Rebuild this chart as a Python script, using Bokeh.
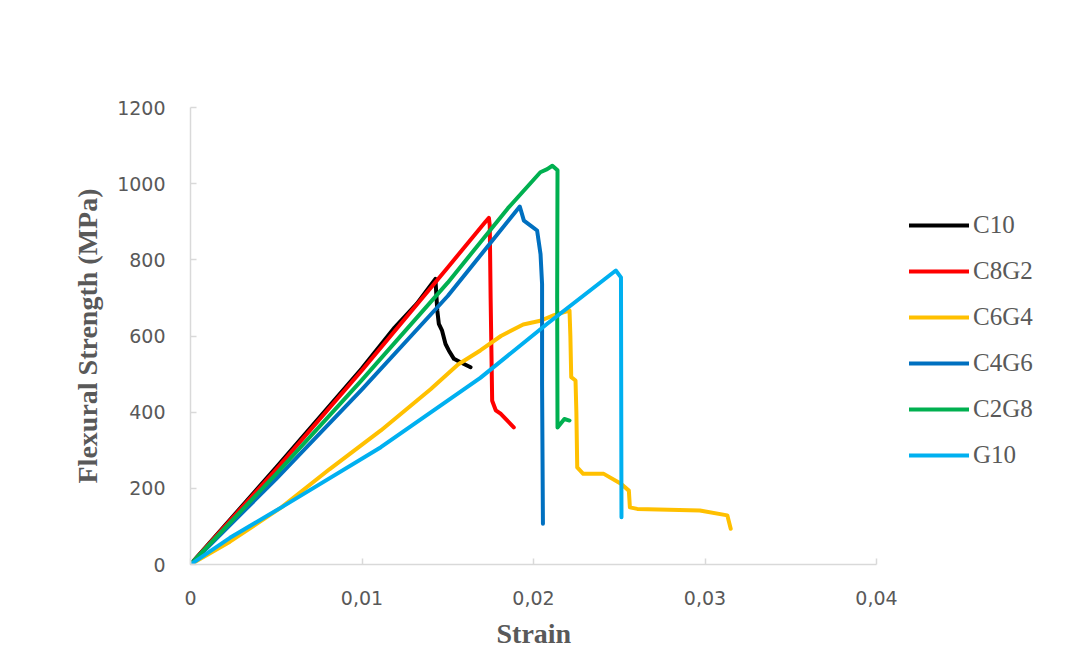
from bokeh.plotting import figure
from bokeh.models import Range1d, FixedTicker, Legend, LegendItem, Title
from bokeh.embed import file_html
from bokeh.resources import INLINE

# ---- data ----
series_names = ["C10", "C8G2", "C6G4", "C4G6", "C2G8", "G10"]
series_colors = ["#000000", "#FF0000", "#FFC000", "#0070C0", "#00B050", "#00B0F0"]

c10_strain = [0, 0.005, 0.010, 0.0119, 0.0132, 0.01428, 0.01439, 0.01448,
              0.01467, 0.01487, 0.01506, 0.01536, 0.01574, 0.01633]
c10_stress = [0, 255, 515, 622, 685, 750, 667, 632, 614, 579, 562, 540, 531, 518]

c8g2_strain = [0, 0.005, 0.010, 0.015, 0.0172, 0.0174, 0.01745, 0.0175, 0.01759, 0.0178, 0.01808, 0.01885]
c8g2_stress = [0, 250, 510, 780, 900, 910, 890, 700, 430, 405, 396, 360]

c6g4_strain = [0, 0.0023, 0.0053, 0.0081, 0.0111, 0.0140, 0.0156, 0.0169, 0.0181, 0.0194,
               0.0204, 0.0212, 0.0221, 0.02215, 0.0222, 0.02245, 0.0225, 0.02255, 0.0229,
               0.0241, 0.0251, 0.02556, 0.02562, 0.02605, 0.0297, 0.0313, 0.0315]
c6g4_stress = [0, 60, 150, 250, 352, 460, 525, 562, 600, 630, 640, 655, 667, 600, 492, 483,
               400, 255, 238, 238, 212, 194, 150, 146, 142, 129, 94]

c4g6_strain = [0, 0.005, 0.010, 0.015, 0.0192, 0.01944, 0.01983, 0.02021, 0.02041, 0.0205, 0.0205, 0.02055]
c4g6_stress = [0, 225, 460, 705, 940, 903, 890, 877, 815, 737, 474, 107]

c2g8_strain = [0, 0.005, 0.010, 0.015, 0.0185, 0.0204, 0.0208, 0.0211, 0.0214, 0.02138, 0.0214, 0.0218, 0.0221]
c2g8_stress = [0, 238, 485, 740, 935, 1030, 1038, 1047, 1035, 700, 360, 382, 378]

g10_strain = [0, 0.0023, 0.0053, 0.0111, 0.0169, 0.0208, 0.0248, 0.0251, 0.02513]
g10_stress = [0, 70, 150, 308, 490, 632, 772, 754, 124]

x_ticks = [0, 0.01, 0.02, 0.03, 0.04]
x_tick_labels = ["0", "0,01", "0,02", "0,03", "0,04"]
y_ticks = [0, 200, 400, 600, 800, 1000, 1200]

x_title = "Strain"
y_title = "Flexural Strength (MPa)"

all_strain = [c10_strain, c8g2_strain, c6g4_strain, c4g6_strain, c2g8_strain, g10_strain]
all_stress = [c10_stress, c8g2_stress, c6g4_stress, c4g6_stress, c2g8_stress, g10_stress]

# ---- layout ----
W, H = 1064, 656
B_LEFT, B_RIGHT, B_TOP, B_BOTTOM = 190, 4, 107, 92
AXIS_PX = 686                     # pixel length of the 0..0.04 strain axis
frame_w = W - B_LEFT - B_RIGHT
x_max = x_ticks[-1]
x_end = x_max * frame_w / AXIS_PX  # frame extends past the axis to hold the legend

p = figure(width=W, height=H, output_backend="svg", toolbar_location=None,
           x_range=Range1d(0, x_end), y_range=Range1d(y_ticks[0], y_ticks[-1]),
           min_border_left=B_LEFT, min_border_right=B_RIGHT,
           min_border_top=B_TOP, min_border_bottom=B_BOTTOM)
p.grid.visible = False
p.outline_line_color = None

items = []
for name, col, xs, ys in zip(series_names, series_colors, all_strain, all_stress):
    r = p.line(xs, ys, line_color=col, line_width=4, line_join="round", line_cap="round")
    items.append(LegendItem(label=name, renderers=[r]))

for ax in (p.xaxis[0], p.yaxis[0]):
    ax.axis_line_color = "#d9d9d9"
    ax.axis_line_width = 1.5
    ax.major_tick_line_color = "#d9d9d9"
    ax.major_tick_line_width = 1.5
    ax.major_tick_in = 6
    ax.major_tick_out = 0
    ax.minor_tick_line_color = None
    ax.major_label_text_font = "DejaVu Sans"
    ax.major_label_text_font_size = "19px"
    ax.major_label_text_color = "#595959"
    ax.axis_label_text_font = "Liberation Serif"
    ax.axis_label_text_font_style = "bold"
    ax.axis_label_text_font_size = "28px"
    ax.axis_label_text_color = "#595959"

p.xaxis.bounds = (0, x_max)
p.xaxis.ticker = FixedTicker(ticks=x_ticks)
p.xaxis.major_label_overrides = dict(zip(x_ticks, x_tick_labels))
p.yaxis.ticker = FixedTicker(ticks=y_ticks)
p.xaxis.major_label_standoff = 26
p.yaxis.major_label_standoff = 25
p.yaxis.axis_label = y_title
p.yaxis.axis_label_standoff = 11

# x-axis title, centred under the 0..0.04 axis (not under the wider frame)
p.add_layout(Title(text=x_title, align="left", offset=306, standoff=16,
                   text_font="Liberation Serif", text_font_style="bold",
                   text_font_size="28px", text_color="#595959"), "below")

legend = Legend(items=items, location=(719, 95), glyph_width=60, glyph_height=20,
                label_height=20, spacing=18, label_standoff=4, padding=10, margin=0,
                border_line_color=None, background_fill_alpha=0,
                label_text_font="Liberation Serif", label_text_font_size="25px",
                label_text_color="#595959")
p.add_layout(legend, "center")

open("out.html", "w").write(file_html(p, INLINE))
